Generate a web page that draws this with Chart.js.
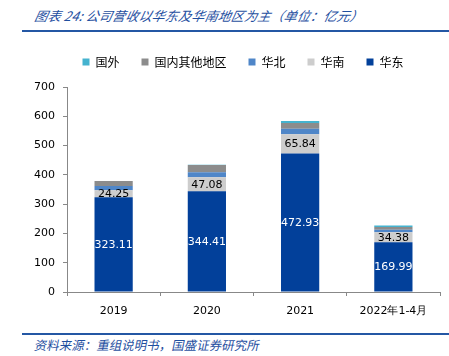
<!DOCTYPE html>
<html>
<head>
<meta charset="utf-8">
<script src="https://cdn.jsdelivr.net/npm/chart.js@4.4.1/dist/chart.umd.min.js"></script>
<style>
  html, body { margin: 0; padding: 0; background: #fff; }
  body { width: 449px; height: 356px; position: relative; overflow: hidden; }
  #title { position: absolute; left: 33px; top: 6px; font-family: "Noto Sans CJK SC", sans-serif; font-style: italic; font-size: 13px; letter-spacing: 0.2px; color: #1f4f9f; white-space: nowrap; transform: skewX(-12deg); transform-origin: left bottom; }
  #topline { position: absolute; left: 22px; top: 30px; width: 427px; height: 2px; background: #2457a4; }
  #botline { position: absolute; left: 22px; top: 333px; width: 427px; height: 2px; background: #2457a4; }
  #foot { position: absolute; left: 33px; top: 335px; font-family: "Noto Sans CJK SC", sans-serif; font-size: 12.5px; color: #1f4f9f; white-space: nowrap; transform: skewX(-12deg); transform-origin: left bottom; }
  #wrap { position: absolute; left: 0; top: 40px; width: 449px; height: 285px; }
</style>
</head>
<body>
<div id="title">图表 24:&nbsp;公司营收以华东及华南地区为主（单位：亿元）</div>
<div id="topline"></div>
<div id="wrap"><canvas id="c"></canvas></div>
<div id="botline"></div>
<div id="foot">资料来源：重组说明书，国盛证券研究所</div>
<script>
const categories = ["2019", "2020", "2021", "2022年1-4月"];
const huadong = [323.11, 344.41, 472.93, 169.99];
const huanan = [24.25, 47.08, 65.84, 34.38];
const huabei = [14.5, 17, 19, 8];
const otherDomestic = [17, 25, 19, 10];
const overseas = [0.5, 1, 7, 5];
const yTicks = [0, 100, 200, 300, 400, 500, 600, 700];

const labelPlugin = {
  id: 'valueLabels',
  afterDatasetsDraw(chart) {
    const ctx = chart.ctx;
    ctx.save();
    ctx.font = '11px "DejaVu Sans", sans-serif';
    ctx.textAlign = 'center';
    ctx.textBaseline = 'middle';
    [[0, '#ffffff'], [1, '#000000']].forEach(([di, color]) => {
      const meta = chart.getDatasetMeta(di);
      const data = chart.data.datasets[di].data;
      meta.data.forEach((bar, i) => {
        const cy = (bar.y + bar.base) / 2;
        ctx.fillStyle = color;
        ctx.fillText(data[i].toFixed(2), bar.x, cy + 0.5);
      });
    });
    ctx.restore();
  }
};

const shiftLegend = {
  id: 'shiftLegend',
  afterLayout(chart) {
    const lg = chart.legend;
    if (lg) { lg.left += 23; lg.right += 23; lg.top -= 9; lg.bottom -= 9; }
  }
};

new Chart(document.getElementById('c'), {
  type: 'bar',
  data: {
    labels: categories,
    datasets: [
      { label: '华东', data: huadong, backgroundColor: '#02409a' },
      { label: '华南', data: huanan, backgroundColor: '#cdcdcd' },
      { label: '华北', data: huabei, backgroundColor: '#4f86c8' },
      { label: '国内其他地区', data: otherDomestic, backgroundColor: '#8c8c8c' },
      { label: '国外', data: overseas, backgroundColor: '#45b3cf' }
    ]
  },
  options: {
    responsive: true,
    maintainAspectRatio: false,
    animation: false,
    layout: { padding: { left: 0, right: 9, top: 3, bottom: 0 } },
    datasets: { bar: { categoryPercentage: 1.0, barPercentage: 0.41, borderWidth: 0 } },
    plugins: {
      legend: {
        position: 'top',
        reverse: true,
        labels: {
          boxWidth: 7, boxHeight: 7, padding: 22,
          color: '#000',
          font: { family: '"Noto Sans CJK SC", sans-serif', size: 12 }
        }
      },
      tooltip: { enabled: false }
    },
    scales: {
      x: {
        stacked: true,
        grid: { display: true, offset: true, drawOnChartArea: false, drawTicks: true, tickLength: 4, color: '#888' },
        border: { color: '#888', width: 1 },
        ticks: { color: '#000', font: { family: '"DejaVu Sans", sans-serif', size: 11 }, padding: 9 },
        afterFit(s) { s.height = 33; }
      },
      y: {
        stacked: true,
        min: 0, max: 700,
        afterBuildTicks(s) { s.ticks = yTicks.map(v => ({ value: v })); },
        grid: { display: true, drawOnChartArea: false, drawTicks: true, tickLength: 4, color: '#888' },
        border: { color: '#888', width: 1 },
        ticks: { color: '#000', font: { family: '"DejaVu Sans", sans-serif', size: 11 }, padding: 8 },
        afterFit(s) { s.width = 67; }
      }
    }
  },
  plugins: [labelPlugin, shiftLegend]
});
</script>
</body>
</html>
